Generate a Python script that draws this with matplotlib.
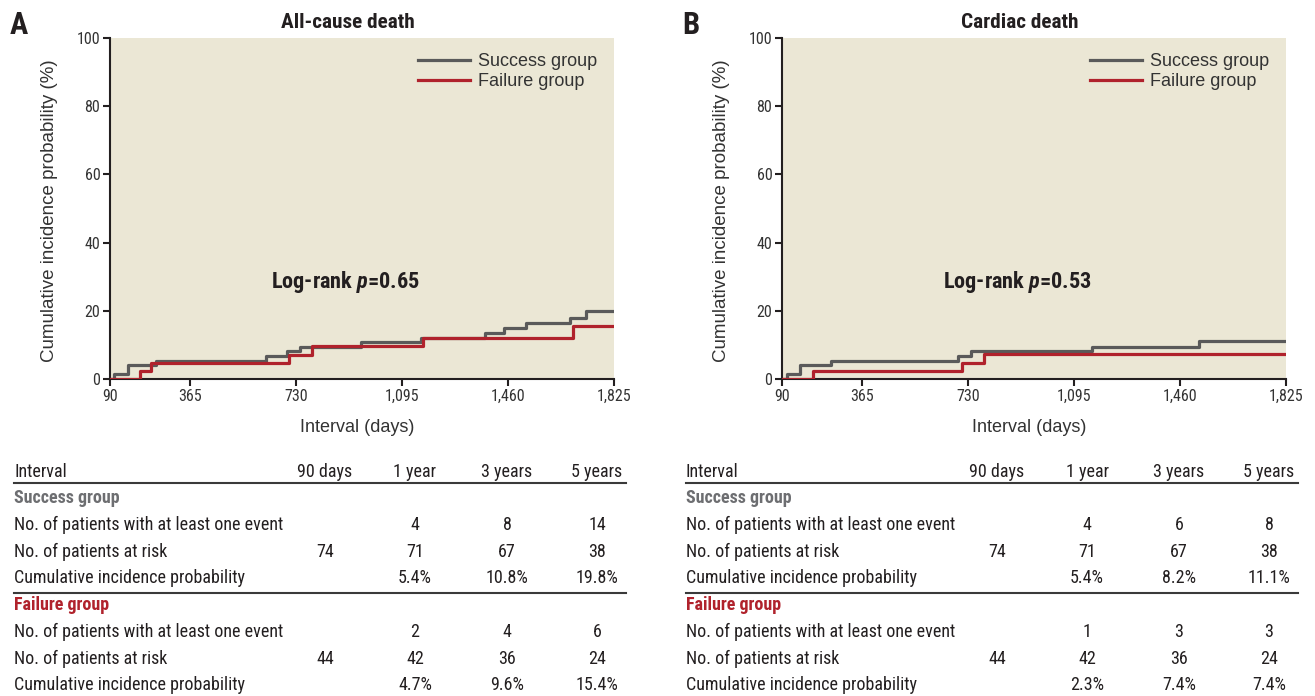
import matplotlib
matplotlib.use('Agg')  # no display
import matplotlib.pyplot as plt
import numpy as np

# ---- curve data (days, cumulative incidence %) ----
a_succ_days = [90, 104, 152, 247, 626, 698, 745, 953, 1161, 1380, 1448, 1523, 1673, 1728]
a_succ_cip = [0, 1.4, 4.1, 5.4, 6.8, 8.1, 9.5, 10.8, 12.0, 13.4, 15.1, 16.3, 18.0, 19.8]
a_fail_days = [90, 194, 232, 707, 785, 1167, 1684]
a_fail_cip = [0, 2.3, 4.7, 7.0, 9.6, 12.0, 15.4]

b_succ_days = [90, 107, 152, 257, 696, 740, 1156, 1526]
b_succ_cip = [0, 1.4, 4.1, 5.4, 6.8, 8.2, 9.5, 11.1]
b_fail_days = [90, 196, 709, 785]
b_fail_cip = [0, 2.3, 4.8, 7.4]

x_end = 1825
x_ticks = [90, 365, 730, 1095, 1460, 1825]
y_ticks = [0, 20, 40, 60, 80, 100]

# ---- table data ----
tab_cols = ['90 days', '1 year', '3 years', '5 years']
row_labels = ['No. of patients with at least one event',
              'No. of patients at risk',
              'Cumulative incidence probability']
a_succ_events = ['', '4', '8', '14']
a_succ_risk = ['74', '71', '67', '38']
a_succ_pct = ['', '5.4%', '10.8%', '19.8%']
a_fail_events = ['', '2', '4', '6']
a_fail_risk = ['44', '42', '36', '24']
a_fail_pct = ['', '4.7%', '9.6%', '15.4%']
b_succ_events = ['', '4', '6', '8']
b_succ_risk = ['74', '71', '67', '38']
b_succ_pct = ['', '5.4%', '8.2%', '11.1%']
b_fail_events = ['', '1', '3', '3']
b_fail_risk = ['44', '42', '36', '24']
b_fail_pct = ['', '2.3%', '7.4%', '7.4%']

W, H = 1315, 696
COND = ['Roboto Condensed', 'DejaVu Sans']
REGULAR = ['Liberation Sans', 'DejaVu Sans']
BG = '#ebe7d5'
GRAY = '#5a5a5a'
RED = '#b0222c'
INK = '#231f20'

plt.rcParams['font.family'] = COND
plt.rcParams['font.stretch'] = 'condensed'
plt.rcParams['mathtext.fontset'] = 'custom'
plt.rcParams['mathtext.it'] = 'Roboto Condensed:italic:bold'
plt.rcParams['mathtext.rm'] = 'Roboto Condensed:bold'


def fx(x):
    return x / W


def fy(y):
    return 1 - y / H


fig = plt.figure(figsize=(W / 100, H / 100), dpi=100)


def draw_panel(left, letter, title, pval, succ_days, succ_cip, fail_days, fail_cip):
    right = left + 504
    ax = fig.add_axes([fx(left), fy(379), (right - left) / W, (379 - 38) / H])
    ax.set_facecolor(BG)
    ax.step(np.append(succ_days, x_end), np.append(succ_cip, succ_cip[-1]),
            where='post', color=GRAY, lw=2.3, label='Success group', zorder=3)
    ax.step(np.append(fail_days, x_end), np.append(fail_cip, fail_cip[-1]),
            where='post', color=RED, lw=2.3, label='Failure group', zorder=4)
    ax.set_xlim(90, x_end)
    ax.set_ylim(0, 100)
    ax.set_xticks(x_ticks)
    ax.set_xticklabels([f'{v:,}' for v in x_ticks])
    ax.set_yticks(y_ticks)
    for s in ['top', 'right']:
        ax.spines[s].set_visible(False)
    for s in ['left', 'bottom']:
        ax.spines[s].set_linewidth(1.5)
        ax.spines[s].set_color(INK)
    ax.tick_params(direction='out', length=5, width=1.5, color=INK,
                   labelsize=11.5, labelcolor='#333333', pad=2)

    leg = ax.legend(loc='center left', bbox_to_anchor=((418 - 110) / 504, (379 - 71.5) / 341),
                    frameon=False, handlelength=2.9, handletextpad=0.45, labelspacing=0.15,
                    borderpad=0, borderaxespad=0,
                    prop={'family': REGULAR, 'stretch': 'normal', 'size': 13})
    for t in leg.get_texts():
        t.set_color('#333333')

    off = left - 110
    # Log-rank note, placed in data coordinates
    ax.text((345 + off - left) / 504 * (x_end - 90) + 90, (379 - 282) / 341 * 100,
            'Log-rank $p$=' + pval, ha='center', va='center', fontsize=16,
            fontweight='bold', color=INK)
    fig.text(fx(348 + off), fy(23), title, ha='center', va='center',
             fontsize=15.3, fontweight='bold', color=INK)
    fig.text(fx(19 + off), fy(25), letter, ha='center', va='center',
             fontsize=22, fontweight='bold', color=INK)
    fig.text(fx(50 + off), fy(211), 'Cumulative incidence probability (%)', rotation=90,
             ha='center', va='center', fontsize=13.5, family=REGULAR, stretch='normal',
             color='#333333')
    fig.text(fx(357 + off), fy(428), 'Interval (days)', ha='center', va='center',
             fontsize=13, family=REGULAR, stretch='normal', color='#333333')


def draw_table(off, succ_rows, fail_rows):
    x0 = 14 + off
    col_x = [325 + off, 415 + off, 507 + off, 597 + off]
    fs = 13
    fig.text(fx(x0), fy(472), 'Interval', ha='left', va='center', fontsize=fs, color=INK)
    for cx, c in zip(col_x, tab_cols):
        fig.text(fx(cx), fy(472), c, ha='center', va='center', fontsize=fs, color=INK)
    for yy in [483, 593]:
        fig.add_artist(plt.Line2D([fx(x0), fx(626 + off)], [fy(yy), fy(yy)],
                                  color='#3a3a3a', lw=1.5))
    blocks = [('Success group', '#6d6e71', 498, succ_rows),
              ('Failure group', RED, 605, fail_rows)]
    for name, col, ytop, rows in blocks:
        fig.text(fx(x0), fy(ytop), name, ha='left', va='center', fontsize=fs,
                 fontweight='bold', color=col)
        for i, (lab, vals) in enumerate(zip(row_labels, rows)):
            yy = ytop + 26.8 * (i + 1)
            fig.text(fx(x0), fy(yy), lab, ha='left', va='center', fontsize=fs, color=INK)
            for cx, v in zip(col_x, vals):
                fig.text(fx(cx), fy(yy), v, ha='center', va='center', fontsize=fs, color=INK)


draw_panel(110, 'A', 'All-cause death', '0.65', a_succ_days, a_succ_cip, a_fail_days, a_fail_cip)
draw_panel(782, 'B', 'Cardiac death', '0.53', b_succ_days, b_succ_cip, b_fail_days, b_fail_cip)
draw_table(0, [a_succ_events, a_succ_risk, a_succ_pct], [a_fail_events, a_fail_risk, a_fail_pct])
draw_table(672, [b_succ_events, b_succ_risk, b_succ_pct], [b_fail_events, b_fail_risk, b_fail_pct])

fig.savefig('out.png', dpi=100, facecolor='white')
plt.close(fig)
